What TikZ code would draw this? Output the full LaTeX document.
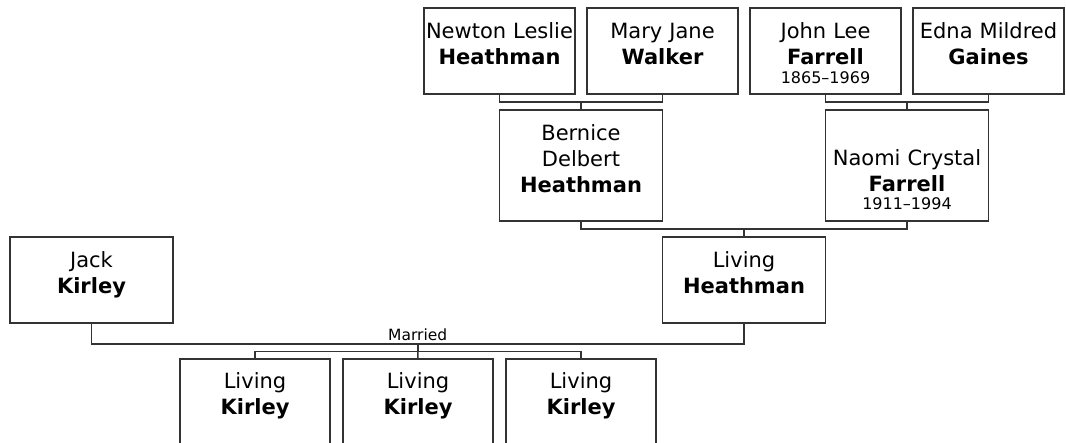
\documentclass[tikz,border=0pt]{standalone}
\usepackage{fontspec}
\setmainfont{DejaVu Sans}
\usetikzlibrary{positioning,calc}
\definecolor{linec}{RGB}{51,51,51}

\begin{document}
\begin{tikzpicture}[
    x=1pt,y=-1pt,
    every node/.style={font=\fontsize{21}{26}\selectfont},
    person/.style={draw=linec,line width=1.6pt,align=center,text width=151pt,outer sep=0pt,
        inner xsep=0pt,inner ysep=0pt,text height=30pt,text depth=56pt,anchor=north west},
    wideperson/.style={person,text width=163pt},
    tallperson/.style={wideperson,text depth=81pt},
    child/.style={person,text width=150pt,text height=29pt,text depth=57pt},
    link/.style={draw=linec,line width=1.5pt},
    tag/.style={font=\fontsize{15.5}{18}\selectfont,inner sep=0pt,anchor=base}
]
    \useasboundingbox (0,0) rectangle (1066,442);
    %Grandparents
    \node[person] (newton) at (424,8) {Newton Leslie\\\textbf{Heathman}};
    \node[person,right=12pt of newton] (mary) {Mary Jane\\\textbf{Walker}};
    \node[person,right=12pt of mary] (john) {John Lee\\\textbf{Farrell}\\[-7pt]{\fontsize{16}{19}\selectfont 1865--1969}};
    \node[person,right=12pt of john] (edna) {Edna Mildred\\\textbf{Gaines}};
    %Parents
    \node[tallperson] (bernice) at ([yshift=-16pt]newton.south) {Bernice\\Delbert\\\textbf{Heathman}};
    \node[tallperson,text height=55pt,text depth=56pt] (naomi) at ([yshift=-16pt]john.south) {Naomi Crystal\\\textbf{Farrell}\\[-8pt]{\fontsize{16}{19}\selectfont 1911--1994}};
    \coordinate (nm) at ($(newton.south)!.5!(mary.south)+(0,8)$);
    \coordinate (je) at ($(john.south)!.5!(edna.south)+(0,8)$);
    \draw[link] (newton.south) |- (nm) -| (mary.south);  \draw[link] (nm) -- (bernice.north);
    \draw[link] (john.south) |- (je) -| (edna.south);  \draw[link] (je) -- (naomi.north);
    %Couple
    \node[wideperson] (heath) at ([yshift=-16pt]bernice.south east) {Living\\\textbf{Heathman}};
    \node[wideperson] (jack) at (10,237) {Jack\\\textbf{Kirley}};
    \coordinate (bn) at ($(bernice.south)!.5!(naomi.south)+(0,8)$);
    \draw[link] (bernice.south) |- (bn) -| (naomi.south);  \draw[link] (bn) -- (heath.north);
    %Children
    \node[child] (kid1) at (180,359) {Living\\\textbf{Kirley}};
    \node[child,right=13pt of kid1] (kid2) {Living\\\textbf{Kirley}};
    \node[child,right=13pt of kid2] (kid3) {Living\\\textbf{Kirley}};
    \coordinate (wed) at ($(jack.south)!.5!(heath.south)+(0,21)$);
    \coordinate (kids) at ([yshift=-7.5pt]wed);
    \draw[link] (jack.south) |- (wed) -| (heath.south);
    \node[tag] (wedtag) at ([yshift=4pt]wed) {Married};
    \draw[link] (wed) -- (kids);
    \draw[link] (kid1.north) |- (kids) -| (kid3.north);  \draw[link] (kids) -- (kid2.north);
\end{tikzpicture}
\end{document}
